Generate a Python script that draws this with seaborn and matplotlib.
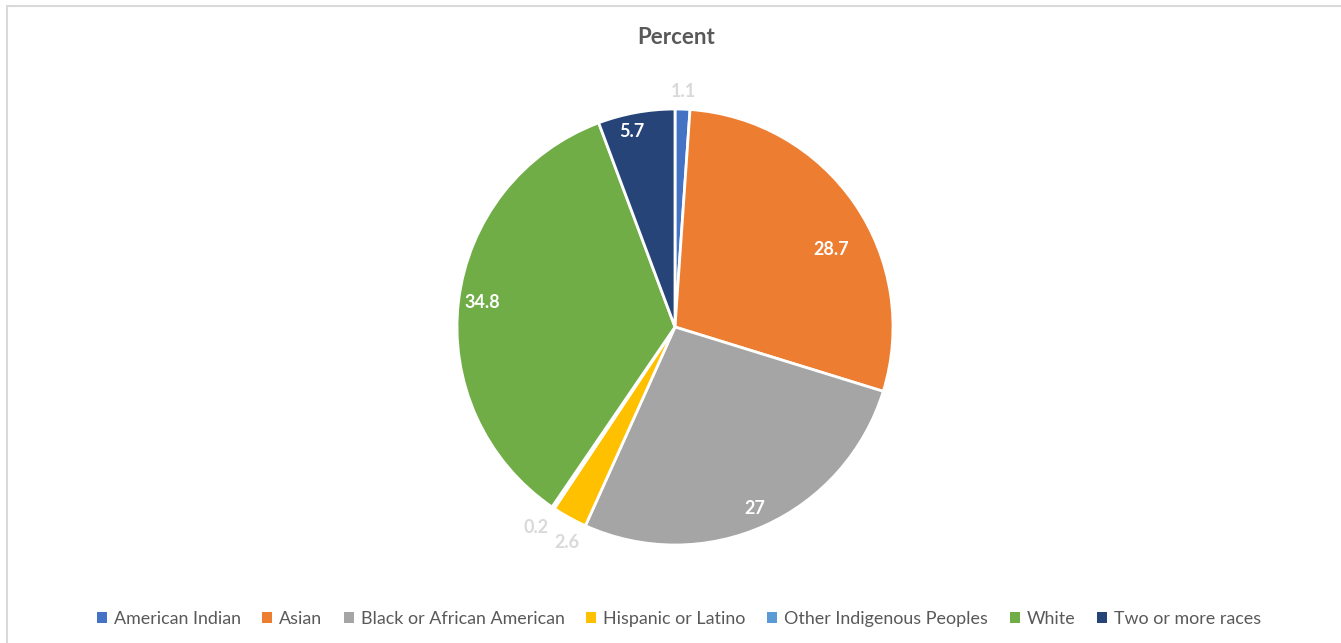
import matplotlib
matplotlib.use("Agg")
import matplotlib.pyplot as plt
import seaborn as sns
import numpy as np
from matplotlib.lines import Line2D
from matplotlib.patches import Patch

sns.set_theme(style="white")
plt.rcParams['font.family'] = ['Lato', 'DejaVu Sans']

categories = ["American Indian", "Asian", "Black or African American",
              "Hispanic or Latino", "Other Indigenous Peoples", "White",
              "Two or more races"]
values = [1.1, 28.7, 27, 2.6, 0.2, 34.8, 5.7]
value_labels = ["1.1", "28.7", "27", "2.6", "0.2", "34.8", "5.7"]
colors = ["#4472C4", "#ED7D31", "#A5A5A5", "#FFC000", "#5B9BD5", "#70AD47", "#264478"]

# label placement (style): radius factor and angle offset in degrees, inside flag
label_radius = [1.08, 0.80, 0.91, 1.105, 1.12, 0.89, 0.92]
label_angle_off = [0, -8, -0.6, 2.3, -0.8, -0.2, 2.1]
label_inside = [False, True, True, False, False, True, True]

W, H = 1341, 643
fig = plt.figure(figsize=(W / 100, H / 100), dpi=100)
fig.patch.set_facecolor("white")

# border (top and left visible)
fig.add_artist(Line2D([6.5 / W, 1], [1 - 6 / H, 1 - 6 / H], color="#D9D9D9", lw=1.5))
fig.add_artist(Line2D([6.5 / W, 6.5 / W], [0, 1 - 6 / H], color="#D9D9D9", lw=1.5))

cx, cy, r = 675, 327, 218
ax = fig.add_axes([(cx - r) / W, (H - cy - r) / H, 2 * r / W, 2 * r / H])
wedges, _ = ax.pie(values, colors=colors, startangle=90, counterclock=False,
                   wedgeprops=dict(edgecolor="white", linewidth=2))
ax.set_xlim(-1, 1)
ax.set_ylim(-1, 1)
ax.set_aspect("equal")
ax.axis("off")

for w, lab, rad, off, inside in zip(wedges, value_labels, label_radius, label_angle_off, label_inside):
    ang = np.deg2rad((w.theta1 + w.theta2) / 2 + off)
    ax.text(rad * np.cos(ang), rad * np.sin(ang), lab, ha="center", va="center",
            fontsize=13, fontweight="bold",
            color="white" if inside else "#D9D9D9", clip_on=False)

fig.text(676 / W, 1 - 37 / H, "Percent", ha="center", va="center",
         fontsize=16, fontweight="bold", color="#595959")

handles = [Patch(facecolor=c, edgecolor="none") for c in colors]
fig.legend(handles, categories, loc="center", bbox_to_anchor=(679 / W, 1 - 619 / H),
           ncol=len(categories), frameon=False, fontsize=12.9,
           handlelength=0.55, handleheight=0.55, handletextpad=0.4, columnspacing=1.2,
           labelcolor="#595959")

fig.savefig("out.png", dpi=100, facecolor="white")
